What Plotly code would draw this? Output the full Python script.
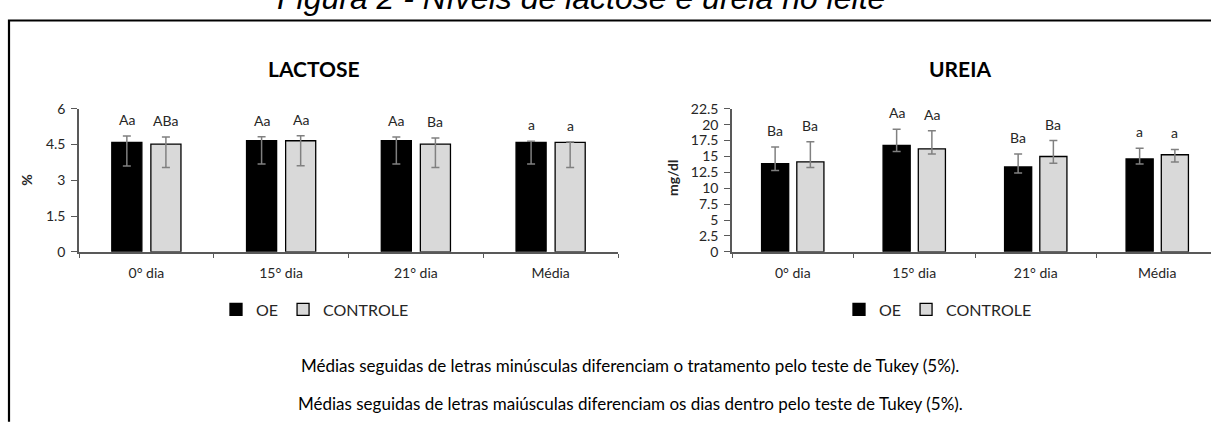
import plotly.graph_objects as go

W, H = 1211, 422

# ---------------- data ----------------
categories = ["0° dia", "15° dia", "21° dia", "Média"]

lactose_oe = [4.59, 4.66, 4.66, 4.59]
lactose_oe_err_plus = [0.27, 0.17, 0.16, 0.05]
lactose_oe_err_minus = [0.99, 0.98, 0.98, 0.91]
lactose_ctrl = [4.52, 4.66, 4.52, 4.59]
lactose_ctrl_err_plus = [0.30, 0.21, 0.26, 0.02]
lactose_ctrl_err_minus = [0.98, 1.05, 0.98, 1.05]
lactose_oe_letters = ["Aa", "Aa", "Aa", "a"]
lactose_ctrl_letters = ["ABa", "Aa", "Ba", "a"]
lactose_ticks = [0, 1.5, 3, 4.5, 6]
lactose_ticklabels = ["0", "1.5", "3", "4.5", "6"]

ureia_oe = [13.86, 16.74, 13.35, 14.60]
ureia_oe_err_plus = [2.64, 2.56, 2.05, 1.70]
ureia_oe_err_minus = [1.06, 0.94, 0.95, 0.80]
ureia_ctrl = [14.16, 16.20, 15.00, 15.27]
ureia_ctrl_err_plus = [3.14, 2.86, 2.50, 0.83]
ureia_ctrl_err_minus = [0.91, 0.80, 1.05, 1.12]
ureia_oe_letters = ["Ba", "Aa", "Ba", "a"]
ureia_ctrl_letters = ["Ba", "Aa", "Ba", "a"]
ureia_ticks = [0, 2.5, 5, 7.5, 10, 12.5, 15, 17.5, 20, 22.5]
ureia_ticklabels = ["0", "2.5", "5", "7.5", "10", "12.5", "15", "17.5", "20", "22.5"]

series_names = ["OE", "CONTROLE"]
title_text = "Figura 2 - Níveis de lactose e ureia no leite"
chart_titles = ["LACTOSE", "UREIA"]
y_titles = ["%", "mg/dl"]
footnotes = [
    "Médias seguidas de letras minúsculas diferenciam o tratamento pelo teste de Tukey (5%).",
    "Médias seguidas de letras maiúsculas diferenciam os dias dentro pelo teste de Tukey (5%).",
]

# ---------------- style ----------------
FONT = "Lato, Calibri, 'Open Sans', sans-serif"
TXT = "#262626"
AX = "#595959"
OE_COLOR = "#000000"
CTRL_COLOR = "#d9d9d9"
ERR_COLOR = "#808080"


def px(x):
    return x / W


def py(y):
    return 1 - y / H


fig = go.Figure()


def add_series(xa, ya, legend, vals, plus, minus, color, name):
    fig.add_trace(go.Bar(
        x=categories, y=vals, name=name, xaxis=xa, yaxis=ya, legend=legend,
        marker=dict(color=color, line=dict(color="#000000", width=1.3)),
        error_y=dict(type="data", symmetric=False, array=plus, arrayminus=minus,
                     color=ERR_COLOR, thickness=1.5, width=4),
        hoverinfo="x+y",
    ))


add_series("x", "y", "legend", lactose_oe, lactose_oe_err_plus, lactose_oe_err_minus, OE_COLOR, series_names[0])
add_series("x", "y", "legend", lactose_ctrl, lactose_ctrl_err_plus, lactose_ctrl_err_minus, CTRL_COLOR, series_names[1])
add_series("x2", "y2", "legend2", ureia_oe, ureia_oe_err_plus, ureia_oe_err_minus, OE_COLOR, series_names[0])
add_series("x2", "y2", "legend2", ureia_ctrl, ureia_ctrl_err_plus, ureia_ctrl_err_minus, CTRL_COLOR, series_names[1])

annotations = []


def add_letters(xref, yref, vals, plus, letters, shift):
    for c, v, p, t in zip(categories, vals, plus, letters):
        annotations.append(dict(
            x=c, y=v + p, xref=xref, yref=yref, text=t, showarrow=False,
            xanchor="center", yanchor="bottom", xshift=shift, yshift=6,
            font=dict(family=FONT, size=14, color=TXT),
        ))


add_letters("x", "y", lactose_oe, lactose_oe_err_plus, lactose_oe_letters, -19.5)
add_letters("x", "y", lactose_ctrl, lactose_ctrl_err_plus, lactose_ctrl_letters, 19.5)
add_letters("x2", "y2", ureia_oe, ureia_oe_err_plus, ureia_oe_letters, -17.3)
add_letters("x2", "y2", ureia_ctrl, ureia_ctrl_err_plus, ureia_ctrl_letters, 17.3)

# chart titles
for txt, cx in zip(chart_titles, [314, 960]):
    annotations.append(dict(
        x=px(cx), y=py(62), xref="paper", yref="paper", text="<b>%s</b>" % txt,
        showarrow=False, xanchor="center", yanchor="middle",
        font=dict(family=FONT, size=21, color="#000000"),
    ))

# y axis titles
for txt, cx, cy in zip(y_titles, [27, 673], [179, 176]):
    annotations.append(dict(
        x=px(cx), y=py(cy), xref="paper", yref="paper", text="<b>%s</b>" % txt,
        showarrow=False, xanchor="center", yanchor="middle", textangle=-90,
        font=dict(family=FONT, size=14, color=TXT),
    ))

# figure caption (cut at top, as in the source page)
annotations.append(dict(
    x=px(581), y=py(9), xref="paper", yref="paper", text="<i>%s</i>" % title_text,
    showarrow=False, xanchor="center", yanchor="bottom",
    font=dict(family="Liberation Sans, Arial, sans-serif", size=32, color="#000000"),
))

# footnotes
for txt, cy in zip(footnotes, [371, 411]):
    annotations.append(dict(
        x=px(630), y=py(cy), xref="paper", yref="paper", text=txt,
        showarrow=False, xanchor="center", yanchor="middle",
        font=dict(family=FONT, size=17, color="#000000"),
    ))

ydom = [py(253), py(104)]

xaxis_common = dict(
    type="category", showline=True, linecolor=AX, linewidth=1.5,
    ticks="outside", tickson="boundaries", ticklen=4, tickcolor=AX, tickwidth=1.3,
    showgrid=False, zeroline=False, fixedrange=True, ticklabelstandoff=8,
    tickfont=dict(family=FONT, size=14, color=TXT),
)
yaxis_common = dict(
    showline=True, linecolor=AX, linewidth=1.5, ticks="outside", ticklen=6,
    tickcolor=AX, tickwidth=1.3, showgrid=False, zeroline=False, fixedrange=True,
    tickfont=dict(family=FONT, size=14, color=TXT), ticklabelstandoff=3,
)

legend_common = dict(orientation="h", yanchor="middle", y=py(313), xanchor="center",
                     font=dict(family=FONT, size=16, color=TXT), itemwidth=30,
                     bgcolor="rgba(0,0,0,0)", tracegroupgap=0)

fig.update_layout(
    width=W, height=H,
    margin=dict(l=0, r=0, t=0, b=0),
    paper_bgcolor="white", plot_bgcolor="white",
    barmode="group", bargap=0.42, bargroupgap=0.23,
    showlegend=True,
    xaxis=dict(xaxis_common, domain=[px(79), px(618)], anchor="y", range=[-0.5, 3.5]),
    yaxis=dict(yaxis_common, domain=ydom, anchor="x", range=[0, 6],
               tickvals=lactose_ticks, ticktext=lactose_ticklabels),
    xaxis2=dict(xaxis_common, domain=[px(732), 1.0], anchor="y2",
                range=[-0.5, -0.5 + (W - 732) / 121.5]),
    yaxis2=dict(yaxis_common, domain=ydom, anchor="x2", range=[0, 22.5],
                tickvals=ureia_ticks, ticktext=ureia_ticklabels),
    legend=dict(legend_common, x=px(315)),
    legend2=dict(legend_common, x=px(938)),
    annotations=annotations,
    shapes=[dict(type="path", xref="paper", yref="paper",
                 path="M %f %f L %f %f L %f %f" % (px(9), py(430), px(9), py(12), px(1220), py(12)),
                 line=dict(color="#000000", width=2.2))],
)

fig.write_html(
    "out.html",
    config={"displayModeBar": False},
    post_script="document.body.style.margin='0';document.body.style.overflow='hidden';",
)
